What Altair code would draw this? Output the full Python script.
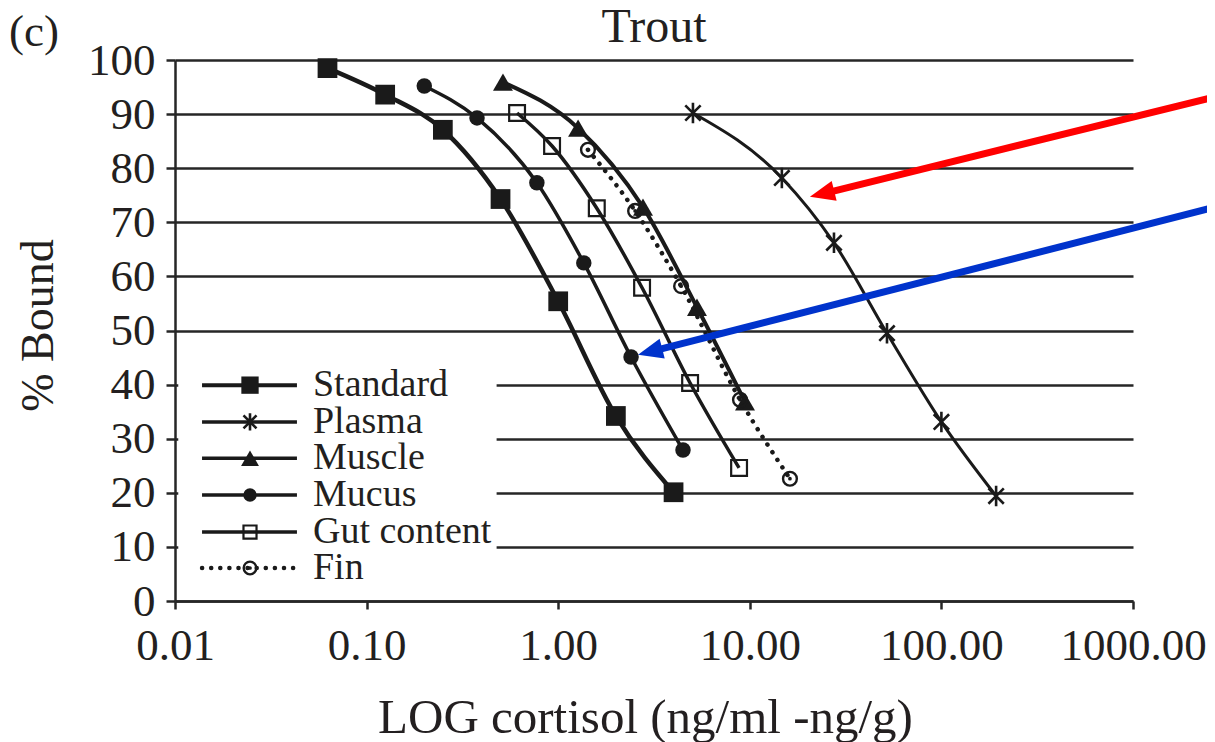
import math
import altair as alt
import pandas as pd

# ---------------- data ----------------
series_names = ["Standard", "Plasma", "Muscle", "Mucus", "Gut content", "Fin"]

standard_x = [0.0625, 0.125, 0.25, 0.5, 1.0, 2.0, 4.0]
standard_y = [98.5, 93.6, 87.1, 74.3, 55.4, 34.2, 20.1]

plasma_x = [5.05, 14.7, 27.5, 52.0, 100.0, 193.0]
plasma_y = [90.2, 78.2, 66.2, 49.5, 33.1, 19.4]

muscle_x = [0.515, 1.27, 2.77, 5.30, 9.44]
muscle_y = [95.9, 87.4, 72.8, 54.3, 36.8]

mucus_x = [0.200, 0.377, 0.774, 1.36, 2.40, 4.48]
mucus_y = [95.2, 89.3, 77.3, 62.5, 45.1, 27.9]

gut_x = [0.610, 0.929, 1.59, 2.74, 4.88, 8.79]
gut_y = [90.2, 84.1, 72.6, 57.9, 40.3, 24.6]

fin_x = [1.43, 2.52, 4.38, 8.89, 16.2]
fin_y = [83.4, 72.1, 58.2, 37.2, 22.6]

x_ticks = [0.01, 0.1, 1, 10, 100, 1000]
y_ticks = [0, 10, 20, 30, 40, 50, 60, 70, 80, 90, 100]

chart_title = "Trout"
panel_letter = "(c)"

# annotation arrows (tail -> tip, in data units)
arrow_colors = ["#ff0000", "#0033cc"]
arrow_tail_x = [2680.0, 2680.0]
arrow_tail_y = [93.2, 72.8]
arrow_tip_x = [20.6, 2.61]
arrow_tip_y = [74.7, 45.5]

# ---------------- layout / style ----------------
W, H = 958, 541
FONT = "Liberation Serif"
INK = "#231f20"
LINE = "#1a1a1a"
GRID = "#262626"

ASTERISK = "M0,-1L0,1M-0.75,-0.75L0.75,0.75M-0.75,0.75L0.75,-0.75"
ARROWHEAD = "M0,0L0.7,1.7L-0.7,1.7Z"
DOTS = [0.1, 9]

styles = {
    "Standard":    dict(lw=4.5, shape="square", filled=True, size=390, sw=1, lsize=300, llw=4),
    "Plasma":      dict(lw=3.0, shape=ASTERISK, filled=False, size=420, sw=2.6, lsize=300, llw=3.5),
    "Muscle":      dict(lw=4.0, shape="triangle-up", filled=True, size=400, sw=1, lsize=320, llw=3.5),
    "Mucus":       dict(lw=3.5, shape="circle", filled=True, size=240, sw=1, lsize=180, llw=3.5),
    "Gut content": dict(lw=3.5, shape="square", filled=False, size=250, sw=2.2, lsize=170, llw=3.5),
    "Fin":         dict(lw=4.5, shape="circle", filled=False, size=190, sw=2.4, lsize=160, llw=4.5,
                        dash=DOTS),
}

# legend layout (data space)
leg_row_y = [39.9, 33.1, 26.4, 19.6, 12.75, 6.1]
leg_line_x = [0.01384, 0.0433]
leg_mark_x = 0.02463
leg_text_x = 0.0525
leg_box = dict(x=0.0104, x2=0.477, y=2.0, y2=43.5)

xs = [standard_x, plasma_x, muscle_x, mucus_x, gut_x, fin_x]
ys = [standard_y, plasma_y, muscle_y, mucus_y, gut_y, fin_y]

x_scale = alt.Scale(type="log", domain=[0.01, 1000])
y_scale = alt.Scale(domain=[0, 100], nice=False, zero=False)

x_axis = alt.Axis(
    values=x_ticks, format=".2f", grid=False,
    labelFont=FONT, labelFontSize=45, labelColor=INK, labelPadding=14,
    labelFlush=False, labelOverlap=False,
    tickSize=8, tickWidth=2.5, tickColor=GRID, domainColor=GRID, domainWidth=2.5,
    title="LOG cortisol (ng/ml -ng/g)", titleFont=FONT, titleFontSize=49,
    titleFontWeight="normal", titleColor=INK, titleX=470, titleY=131,
    titleBaseline="alphabetic", titleAlign="center",
)
y_axis = alt.Axis(
    values=y_ticks, grid=True, gridColor=GRID, gridWidth=2.5, gridOpacity=1,
    labelFont=FONT, labelFontSize=45, labelColor=INK, labelPadding=11,
    labelFlush=False, labelOverlap=False,
    tickSize=9, tickWidth=2.5, tickColor=GRID, domainColor=GRID, domainWidth=2.5,
    title="% Bound", titleFont=FONT, titleFontSize=46, titleFontWeight="normal",
    titleColor=INK, titleX=-123, titleY=265, titleAngle=270,
    titleBaseline="alphabetic", titleAlign="center",
)


def X(field="x"):
    return alt.X(f"{field}:Q", scale=x_scale, axis=x_axis)


def Y(field="y"):
    return alt.Y(f"{field}:Q", scale=y_scale, axis=y_axis)


layers = []

# white legend box (hides the grid behind the legend)
box_df = pd.DataFrame([leg_box])
layers.append(
    alt.Chart(box_df).mark_rect(color="white").encode(
        x=X("x"), x2=alt.X2("x2:Q"), y=Y("y"), y2=alt.Y2("y2:Q")
    )
)

# series
for name, sx, sy in zip(series_names, xs, ys):
    st = styles[name]
    df = pd.DataFrame({"x": sx, "y": sy, "series": name})
    line_kw = dict(color=LINE, strokeWidth=st["lw"], interpolate="monotone")
    if "dash" in st:
        line_kw.update(strokeDash=st["dash"], strokeCap="round")
    layers.append(alt.Chart(df).mark_line(**line_kw).encode(x=X(), y=Y()))
    pt_kw = dict(shape=st["shape"], filled=st["filled"], size=st["size"], opacity=1,
                 color=LINE, strokeWidth=st["sw"])
    layers.append(alt.Chart(df).mark_point(**pt_kw).encode(x=X(), y=Y()))
    if name == "Fin":
        layers.append(alt.Chart(df).mark_point(shape="circle", filled=True, size=14,
                                               opacity=1, color=LINE).encode(x=X(), y=Y()))

# legend
for name, ry in zip(series_names, leg_row_y):
    st = styles[name]
    ldf = pd.DataFrame({"x": [leg_line_x[0]], "x2": [leg_line_x[1]], "y": [ry],
                        "mx": [leg_mark_x], "tx": [leg_text_x], "label": [name]})
    rule_kw = dict(color=LINE, strokeWidth=st["llw"])
    if "dash" in st:
        rule_kw.update(strokeDash=DOTS, strokeCap="round")
    layers.append(alt.Chart(ldf).mark_rule(**rule_kw).encode(
        x=X("x"), x2=alt.X2("x2:Q"), y=Y("y")))
    layers.append(alt.Chart(ldf).mark_point(
        shape=st["shape"], filled=st["filled"], size=st["lsize"], opacity=1,
        color=LINE, strokeWidth=st["sw"]).encode(x=X("mx"), y=Y("y")))
    if name == "Fin":
        layers.append(alt.Chart(ldf).mark_point(shape="circle", filled=True, size=14,
                                                opacity=1, color=LINE).encode(x=X("mx"), y=Y("y")))
    layers.append(alt.Chart(ldf).mark_text(
        align="left", baseline="middle", font=FONT, fontSize=38, color=INK
    ).encode(x=X("tx"), y=Y("y"), text="label:N"))

# arrows
for col, tx0, ty0, tx1, ty1 in zip(arrow_colors, arrow_tail_x, arrow_tail_y,
                                    arrow_tip_x, arrow_tip_y):
    dx = (math.log10(tx1) - math.log10(tx0)) * W / 5.0
    dy = -(ty1 - ty0) * H / 100.0
    length = math.hypot(dx, dy)
    t = 1 - 16.0 / length
    ex = 10 ** (math.log10(tx0) + t * (math.log10(tx1) - math.log10(tx0)))
    ey = ty0 + t * (ty1 - ty0)
    ang = math.degrees(math.atan2(dx, -dy)) % 360
    adf = pd.DataFrame({"x": [tx0], "x2": [ex], "y": [ty0], "y2": [ey],
                        "hx": [tx1], "hy": [ty1]})
    layers.append(alt.Chart(adf).mark_rule(color=col, strokeWidth=7).encode(
        x=X("x"), x2=alt.X2("x2:Q"), y=Y("y"), y2=alt.Y2("y2:Q")))
    layers.append(alt.Chart(adf).mark_point(
        shape=ARROWHEAD, filled=True, size=860, opacity=1, color=col, angle=ang,
        strokeWidth=0).encode(x=X("hx"), y=Y("hy")))

# title and panel letter as text marks
text_df = pd.DataFrame({"t": [chart_title]})
layers.append(
    alt.Chart(text_df).mark_text(
        align="center", baseline="alphabetic", font=FONT, fontSize=48, color=INK
    ).encode(x=alt.value(W / 2), y=alt.value(-18), text="t:N")
)
letter_df = pd.DataFrame({"t": [panel_letter]})
layers.append(
    alt.Chart(letter_df).mark_text(
        align="left", baseline="middle", font=FONT, fontSize=45, color=INK
    ).encode(x=alt.value(-166), y=alt.value(-28), text="t:N")
)

chart = alt.layer(*layers).properties(
    width=W, height=H,
    padding={"left": 167, "top": 52, "right": 74, "bottom": 145},
    autosize=alt.AutoSizeParams(type="none"),
).configure_view(stroke=None)

chart.save("out.html", embed_options={"renderer": "svg", "actions": False})
